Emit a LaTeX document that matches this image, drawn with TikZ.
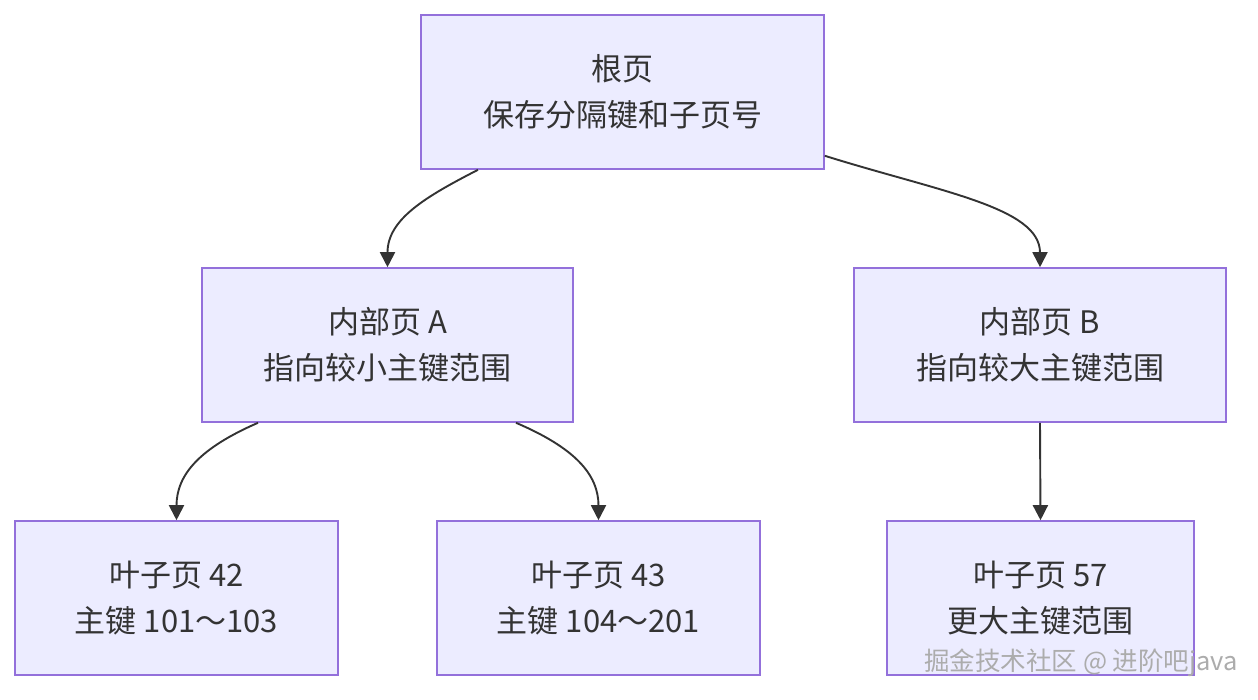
\documentclass[tikz,border=0pt]{standalone}
\usepackage{fontspec}
\setmainfont{Noto Sans CJK SC}
\usetikzlibrary{arrows.meta,calc}
\definecolor{boxfill}{HTML}{ECECFF}
\definecolor{boxdraw}{HTML}{9370DB}
\definecolor{ink}{HTML}{333333}
\tikzset{
  page/.style={draw=boxdraw, fill=boxfill, line width=1.6pt, text=ink, align=center,
    font=\fontsize{31}{46}\selectfont, inner sep=0pt, minimum height=154pt},
  link/.style={draw=ink, line width=1.9pt, -{Triangle[length=15pt,width=15pt]}},
  wmtext/.style={text=gray!65, font=\fontsize{25.5}{28}\selectfont, inner sep=0pt}
}
\begin{document}
\begin{tikzpicture}[x=1pt,y=-1pt]
\useasboundingbox[fill=white] (0,0) rectangle (1258,700);
\node[page, minimum width=403pt] (root) at (622.5,92) {根页\\保存分隔键和子页号};
\node[page, minimum width=371pt] (A) at (387.5,345) {内部页 A\\指向较小主键范围};
\node[page, minimum width=372pt] (B) at (1040,345) {内部页 B\\指向较大主键范围};
\node[page, minimum width=323pt] (L42) at (176.5,598) {叶子页 42\\主键 101～103};
\node[page, minimum width=323pt] (L43) at (598.5,598) {叶子页 43\\主键 104～201};
\node[page, minimum width=307pt] (L57) at (1040.5,598) {叶子页 57\\更大主键范围};
\draw[link] ([xshift=-144.5pt]root.south) .. controls ($(root.south)+(-197,27)$) and ($(A.north)+(0,-48)$) .. (A.north);
\draw[link] ([yshift=14pt]root.south east) .. controls ($(root.south east)+(115,22)$) and ($(B.north)+(0,-60)$) .. (B.north);
\draw[link] ([xshift=-129.5pt]A.south) .. controls ($(A.south)+(-187,25)$) and ($(L42.north)+(0,-46)$) .. (L42.north);
\draw[link] ([xshift=128.5pt]A.south) .. controls ($(A.south)+(187,25)$) and ($(L43.north)+(0,-46)$) .. (L43.north);
\draw[link] (B.south) -- (L57.north);
\node[wmtext, anchor=east] (wm) at (1238,663) {掘金技术社区 @ 进阶吧java};
\end{tikzpicture}
\end{document}
